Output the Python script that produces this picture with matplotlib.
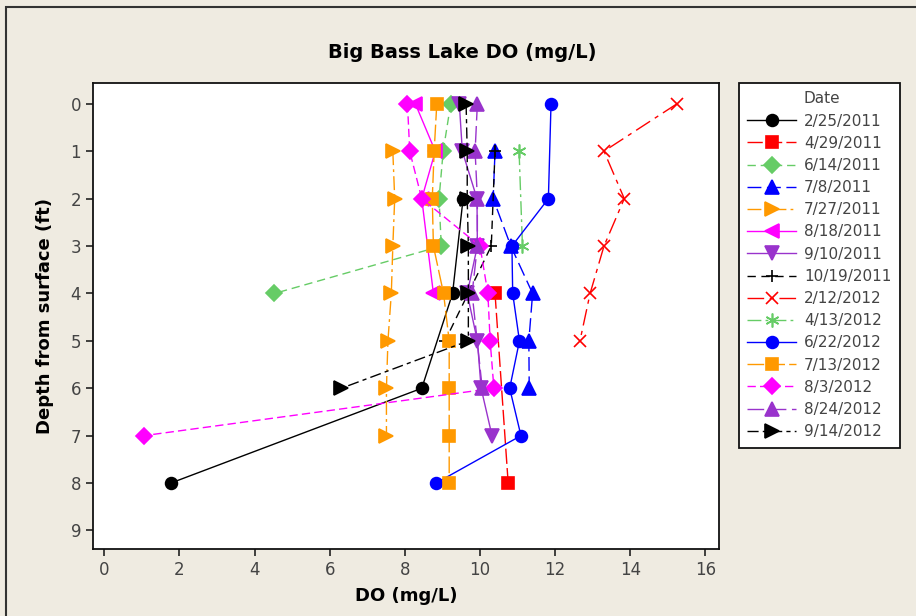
import matplotlib
matplotlib.use("Agg")
import matplotlib.pyplot as plt
from matplotlib.patches import Rectangle

# depth profiles (depth in ft, DO in mg/L)
dates = ["2/25/2011", "4/29/2011", "6/14/2011", "7/8/2011", "7/27/2011",
         "8/18/2011", "9/10/2011", "10/19/2011", "2/12/2012", "4/13/2012",
         "6/22/2012", "7/13/2012", "8/3/2012", "8/24/2012", "9/14/2012"]

depth_0225_2011 = [2, 4, 6, 8]
do_0225_2011 = [9.55, 9.27, 8.45, 1.77]

depth_0429_2011 = [4, 8]
do_0429_2011 = [10.40, 10.75]

depth_0614_2011 = [0, 1, 2, 3, 4]
do_0614_2011 = [9.22, 9.02, 8.91, 8.97, 4.53]

depth_0708_2011 = [1, 2, 3, 4, 5, 6]
do_0708_2011 = [10.40, 10.35, 10.82, 11.40, 11.30, 11.31]

depth_0727_2011 = [1, 2, 3, 4, 5, 6, 7]
do_0727_2011 = [7.68, 7.73, 7.68, 7.64, 7.55, 7.51, 7.51]

depth_0818_2011 = [0, 1, 2, 4]
do_0818_2011 = [8.28, 8.81, 8.45, 8.76]

depth_0910_2011 = [0, 1, 2, 3, 4, 5, 6, 7]
do_0910_2011 = [9.45, 9.53, 9.92, 9.93, 9.66, 9.93, 10.03, 10.32]

depth_1019_2011 = [1, 3, 5]
do_1019_2011 = [10.40, 10.30, 9.07]

depth_0212_2012 = [0, 1, 2, 3, 4, 5]
do_0212_2012 = [15.24, 13.30, 13.84, 13.30, 12.93, 12.66]

depth_0413_2012 = [1, 3]
do_0413_2012 = [11.04, 11.13]

depth_0622_2012 = [0, 2, 3, 4, 5, 6, 7, 8]
do_0622_2012 = [11.89, 11.82, 10.85, 10.87, 11.05, 10.79, 11.09, 8.83]

depth_0713_2012 = [0, 1, 2, 3, 4, 5, 6, 7, 8]
do_0713_2012 = [8.85, 8.78, 8.73, 8.76, 9.03, 9.18, 9.18, 9.18, 9.18]

depth_0803_2012 = [0, 1, 2, 3, 4, 5, 6, 7]
do_0803_2012 = [8.07, 8.13, 8.45, 10.00, 10.21, 10.27, 10.37, 1.05]

depth_0824_2012 = [0, 1, 2, 3, 4, 6]
do_0824_2012 = [9.93, 9.87, 9.93, 9.93, 9.79, 10.06]

depth_0914_2012 = [0, 1, 2, 3, 4, 5, 6]
do_0914_2012 = [9.63, 9.66, 9.66, 9.69, 9.69, 9.69, 6.31]

x_ticks = [0, 2, 4, 6, 8, 10, 12, 14, 16]
y_ticks = [0, 1, 2, 3, 4, 5, 6, 7, 8, 9]

BLACK = "#000000"
RED = "#FF0000"
GREEN = "#66CC66"
BLUE = "#0000FF"
ORANGE = "#FF9900"
MAGENTA = "#FF00FF"
PURPLE = "#9933CC"

series = [
    (do_0225_2011, depth_0225_2011, BLACK, "o", "-", 8.5),
    (do_0429_2011, depth_0429_2011, RED, "s", (0, (11, 3)), 8.5),
    (do_0614_2011, depth_0614_2011, GREEN, "D", (0, (6, 3.5)), 8),
    (do_0708_2011, depth_0708_2011, BLUE, "^", (0, (10, 4)), 9.5),
    (do_0727_2011, depth_0727_2011, ORANGE, ">", (0, (10, 3, 2, 3)), 9.5),
    (do_0818_2011, depth_0818_2011, MAGENTA, "<", "-", 9.5),
    (do_0910_2011, depth_0910_2011, PURPLE, "v", "-", 9.5),
    (do_1019_2011, depth_1019_2011, BLACK, "+", (0, (6, 4)), 9),
    (do_0212_2012, depth_0212_2012, RED, "x", (0, (12, 4, 3, 4)), 9),
    (do_0413_2012, depth_0413_2012, GREEN, (6, 2, 0), (0, (10, 3, 2, 3)), 10),
    (do_0622_2012, depth_0622_2012, BLUE, "o", "-", 8.5),
    (do_0713_2012, depth_0713_2012, ORANGE, "s", (0, (12, 3)), 8.5),
    (do_0803_2012, depth_0803_2012, MAGENTA, "D", (0, (6, 3)), 8),
    (do_0824_2012, depth_0824_2012, PURPLE, "^", (0, (12, 4)), 9.5),
    (do_0914_2012, depth_0914_2012, BLACK, ">", (0, (8, 3, 3, 3)), 9.5),
]

BG = "#EFEBE1"
TICK_FONT = ["Liberation Sans Narrow", "DejaVu Sans"]

fig = plt.figure(figsize=(9.16, 6.16), dpi=100, facecolor=BG)
ax = fig.add_axes([0.1015, 0.1088, 0.6830, 0.7565])
ax.set_facecolor("white")

for (x, y, color, marker, ls, ms), label in zip(series, dates):
    ax.plot(x, y, color=color, marker=marker, linestyle=ls, linewidth=1.0,
            markersize=ms, markeredgewidth=1.2, label=label)

ax.set_xlim(-0.30, 16.35)
ax.set_ylim(9.39, -0.44)
ax.set_xticks(x_ticks)
ax.set_yticks(y_ticks)
ax.tick_params(direction="out", length=5, width=1.2, colors="#222222",
               labelsize=12, labelcolor="#444444")
for lbl in ax.get_xticklabels() + ax.get_yticklabels():
    lbl.set_family(TICK_FONT)
for sp in ax.spines.values():
    sp.set_linewidth(1.3)
    sp.set_color("#111111")

ax.set_xlabel("DO (mg/L)", fontsize=13, fontweight="bold", labelpad=6)
ax.set_ylabel("Depth from surface (ft)", fontsize=13, fontweight="bold",
              labelpad=12)
fig.text(0.505, 0.915, "Big Bass Lake DO (mg/L)", ha="center", va="center",
         fontsize=14, fontweight="bold")

# legend with the "Date" header as a blank first row
handles, labels = ax.get_legend_handles_labels()
blank, = ax.plot([], [], color="none")
leg = fig.legend([blank] + handles, ["Date"] + labels,
                 loc="upper left", bbox_to_anchor=(739 / 916, 1 - 83 / 616),
                 borderaxespad=0, frameon=True, fancybox=False,
                 edgecolor="#111111", facecolor="white", framealpha=1,
                 handlelength=3.2, handletextpad=0.5, labelspacing=0.47,
                 borderpad=0.55, prop={"family": TICK_FONT, "size": 11})
leg.get_frame().set_linewidth(1.3)
for t in leg.get_texts():
    t.set_color("#444444")

# outer frame, cut off at the right and bottom like the exported graph
fig.add_artist(Rectangle((6 / 916, -0.2), 1.5, 1.2 - 7 / 616,
                         transform=fig.transFigure, fill=False,
                         edgecolor="#333333", linewidth=1.5))

fig.savefig("out.png", dpi=100, facecolor=BG)
